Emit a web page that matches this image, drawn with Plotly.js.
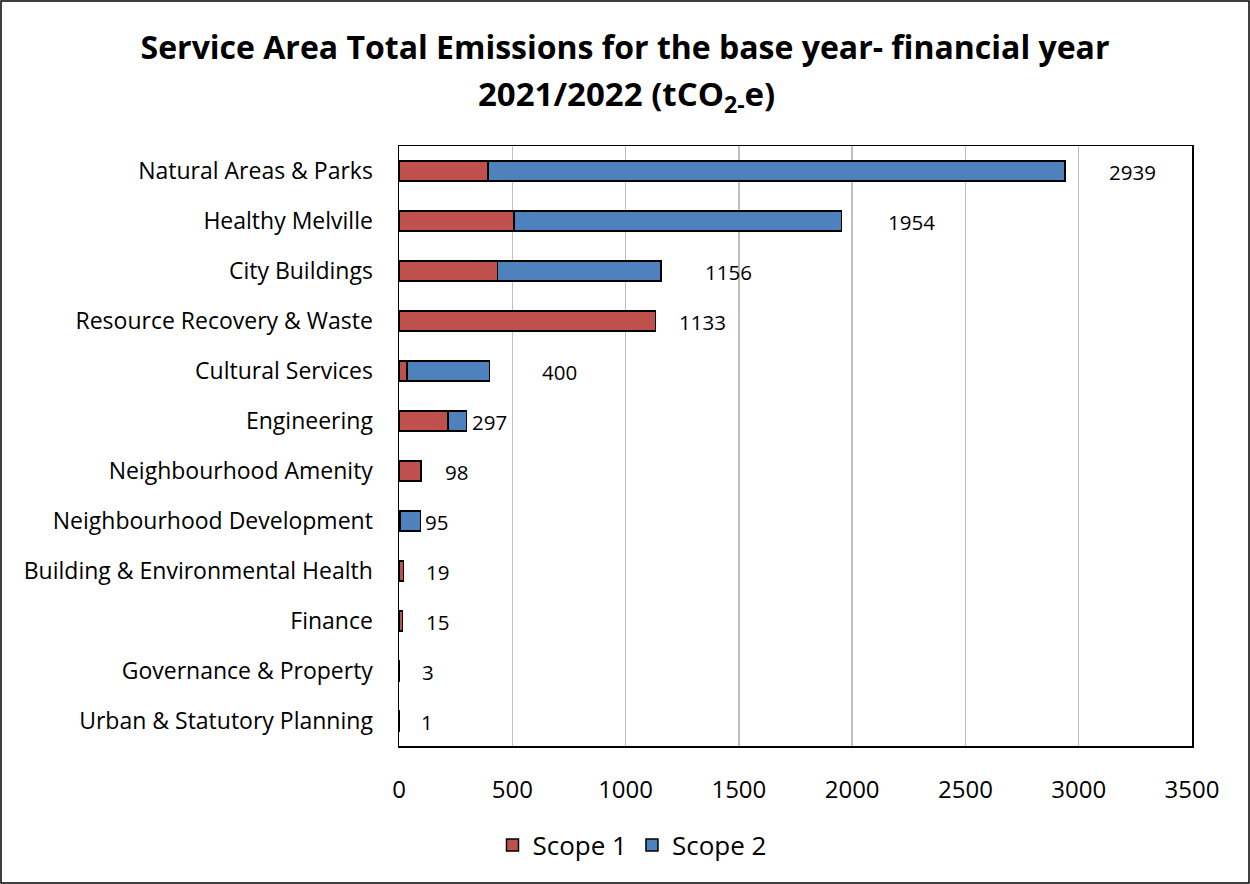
<!DOCTYPE html>
<html>
<head>
<meta charset="utf-8">
<script src="https://cdn.plot.ly/plotly-3.0.1.min.js"></script>
<style>
  html, body { margin: 0; padding: 0; background: #fff; }
  #chart { width: 1250px; height: 884px; }
</style>
</head>
<body>
<div id="chart"></div>
<script>
// ---- data ----
const categories = [
  "Natural Areas & Parks",
  "Healthy Melville",
  "City Buildings",
  "Resource Recovery & Waste",
  "Cultural Services",
  "Engineering",
  "Neighbourhood Amenity",
  "Neighbourhood Development",
  "Building & Environmental Health",
  "Finance",
  "Governance & Property",
  "Urban & Statutory Planning"
];
const scope1 = [393, 507, 434, 1133, 36, 216, 98, 7, 19, 15, 3, 1];
const scope2 = [2546, 1447, 722, 0, 364, 81, 0, 88, 0, 0, 0, 0];
const totals = [2939, 1954, 1156, 1133, 400, 297, 98, 95, 19, 15, 3, 1];
const xTicks = [0, 500, 1000, 1500, 2000, 2500, 3000, 3500];

// label offsets in pixels (style only)
const labelShift = [68, 70, 68, 47, 70, 23, 35, 16, 34, 35, 28, 28];

const FONT = "'Open Sans', Lato, sans-serif";
const margin = { l: 399, r: 58, t: 146, b: 138 };
const W = 1250, H = 884;
const pw = W - margin.l - margin.r, ph = H - margin.t - margin.b;

const common = {
  type: "bar",
  orientation: "h",
  y: categories,
  hoverinfo: "x+y+name"
};

const traces = [
  Object.assign({}, common, {
    name: "Scope 1",
    x: scope1,
    marker: { color: "#C0504D", line: { color: "#000", width: 1.5 } }
  }),
  Object.assign({}, common, {
    name: "Scope 2",
    x: scope2,
    marker: { color: "#4F81BD", line: { color: "#000", width: 1.5 } }
  })
];

const annotations = totals.map((t, i) => ({
  x: t, y: categories[i], xref: "x", yref: "y",
  text: String(t), showarrow: false,
  xanchor: "center", yanchor: "middle",
  xshift: labelShift[i], yshift: -1,
  font: { family: FONT, size: 20.5, color: "#000" }
}));

annotations.push({
  xref: "paper", yref: "paper",
  x: (626 - margin.l) / pw, y: (H - 95 - margin.b) / ph,
  xanchor: "center", yanchor: "middle", showarrow: false,
  text: "<b>2021/2022 (tCO<sub>2-</sub>e)</b>",
  font: { family: FONT, size: 33, color: "#000" }
});

const layout = {
  width: W, height: H,
  margin: margin,
  paper_bgcolor: "#fff",
  plot_bgcolor: "#fff",
  barmode: "stack",
  bargap: 0.6,
  title: {
    text: "<b>Service Area Total Emissions for the base year- financial year</b>",
    font: { family: FONT, size: 32, color: "#000" },
    x: 0.5, xanchor: "center",
    y: 1 - 48 / H, yanchor: "middle",
    xref: "container", yref: "container"
  },
  font: { family: FONT, color: "#000" },
  xaxis: {
    range: [0, 3500],
    tickvals: xTicks,
    ticktext: xTicks.map(String),
    showgrid: true,
    gridcolor: "#BFBFBF",
    gridwidth: 1.5,
    zeroline: false,
    showline: true,
    linecolor: "#000",
    linewidth: 1.5,
    mirror: true,
    ticks: "",
    ticklabelstandoff: 22,
    tickfont: { family: FONT, size: 24, color: "#000" }
  },
  yaxis: {
    type: "category",
    categoryorder: "array",
    categoryarray: categories,
    autorange: "reversed",
    showline: true,
    linecolor: "#000",
    linewidth: 1.5,
    mirror: true,
    ticks: "",
    ticklabelstandoff: 20,
    tickfont: { family: FONT, size: 23, color: "#000" }
  },
  legend: {
    orientation: "h",
    x: (632 - margin.l) / pw, xanchor: "center",
    y: (H - margin.b - 845) / ph, yanchor: "middle",
    font: { family: FONT, size: 26, color: "#000" },
    itemwidth: 30,
    traceorder: "normal"
  },
  annotations: annotations,
  shapes: [{
    type: "rect", xref: "paper", yref: "paper",
    x0: (1 - margin.l) / pw, x1: (W - 1 - margin.l) / pw,
    y0: -(margin.b - 1) / ph, y1: 1 + (margin.t - 1) / ph,
    line: { color: "#000", width: 1.5 }, fillcolor: "rgba(0,0,0,0)"
  }]
};

Plotly.newPlot("chart", traces, layout, { displayModeBar: false, staticPlot: true });
</script>
</body>
</html>
